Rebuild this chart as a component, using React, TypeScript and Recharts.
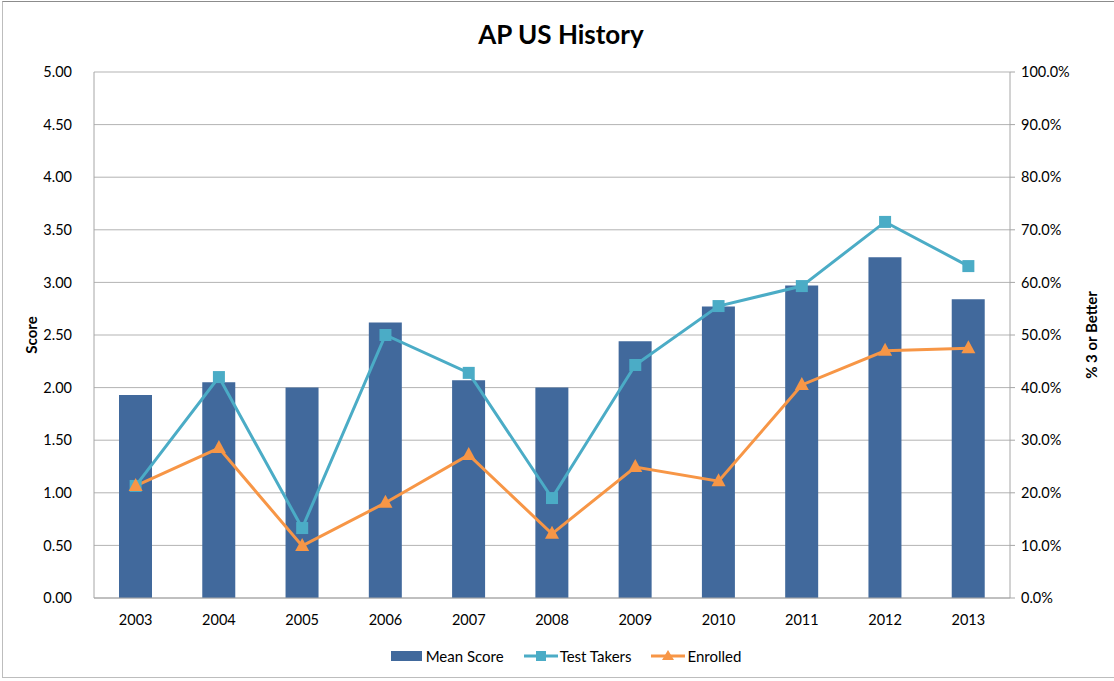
import React from 'react';
import { ComposedChart, Bar, Line, XAxis, YAxis, CartesianGrid, Legend } from 'recharts';

const years = ['2003', '2004', '2005', '2006', '2007', '2008', '2009', '2010', '2011', '2012', '2013'];
const meanScore = [1.93, 2.05, 2.0, 2.62, 2.07, 2.0, 2.44, 2.77, 2.97, 3.24, 2.84];
const testTakers = [21.3, 42.0, 13.3, 50.0, 42.8, 19.0, 44.3, 55.5, 59.3, 71.5, 63.1];
const enrolled = [21.3, 28.5, 9.9, 18.1, 27.2, 12.2, 24.9, 22.2, 40.5, 47.0, 47.5];
const scoreTicks = [0, 0.5, 1, 1.5, 2, 2.5, 3, 3.5, 4, 4.5, 5];
const pctTicks = [0, 10, 20, 30, 40, 50, 60, 70, 80, 90, 100];

const data = years.map((y, i) => ({
  year: y,
  mean: meanScore[i],
  takers: testTakers[i],
  enrolled: enrolled[i],
}));

const BAR = '#41699c';
const AQUA = '#4bacc6';
const ORANGE = '#f79646';
const FONT = 'Lato, "Open Sans", sans-serif';

const SquareDot = (props: any) => {
  const { cx, cy, index } = props;
  if (cx == null || cy == null) return null;
  return <rect key={'s' + index} x={cx - 6} y={cy - 6} width={12} height={12} fill={AQUA} />;
};

const TriDot = (props: any) => {
  const { cx, cy, index } = props;
  if (cx == null || cy == null) return null;
  return (
    <polygon
      key={'t' + index}
      points={`${cx},${cy - 8} ${cx + 7},${cy + 5} ${cx - 7},${cy + 5}`}
      fill={ORANGE}
    />
  );
};

const LegendContent = () => (
  <div
    style={{
      display: 'flex',
      justifyContent: 'center',
      alignItems: 'center',
      fontFamily: FONT,
      fontSize: 15,
      color: '#000',
      height: 28,
      paddingLeft: 8,
    }}
  >
    <span style={{ display: 'inline-flex', alignItems: 'center', marginRight: 20 }}>
      <svg width={31} height={12} style={{ marginRight: 4 }}>
        <rect x={0} y={1} width={31} height={10} fill={BAR} />
      </svg>
      Mean Score
    </span>
    <span style={{ display: 'inline-flex', alignItems: 'center', marginRight: 20 }}>
      <svg width={34} height={12} style={{ marginRight: 2 }}>
        <line x1={0} y1={6} x2={34} y2={6} stroke={AQUA} strokeWidth={3} />
        <rect x={12} y={1} width={10} height={10} fill={AQUA} />
      </svg>
      Test Takers
    </span>
    <span style={{ display: 'inline-flex', alignItems: 'center' }}>
      <svg width={34} height={12} style={{ marginRight: 2 }}>
        <line x1={0} y1={6} x2={34} y2={6} stroke={ORANGE} strokeWidth={3} />
        <polygon points="17,0 23,10 11,10" fill={ORANGE} />
      </svg>
      Enrolled
    </span>
  </div>
);

export default function App() {
  return (
    <div style={{ position: 'absolute', left: 0, top: 0, width: 1114, height: 681, background: '#fff', overflow: 'hidden' }}>
      <div
        style={{
          position: 'absolute',
          left: 2,
          top: 1,
          width: 1114,
          height: 677,
          border: '1px solid #bdbdbd',
          borderTopColor: '#8c8c8c',
          boxSizing: 'border-box',
        }}
      />
      <div
        style={{
          position: 'absolute',
          left: 0,
          width: 1122,
          top: 18,
          textAlign: 'center',
          fontFamily: FONT,
          fontWeight: 'bold',
          fontSize: 26,
          color: '#000',
        }}
      >
        AP US History
      </div>
      <div style={{ position: 'absolute', left: 0, top: 0 }}>
        <ComposedChart
          width={1114}
          height={681}
          data={data}
          margin={{ top: 72, right: 22, bottom: 11, left: 32 }}
          style={{ fontFamily: FONT }}
        >
          <CartesianGrid yAxisId="left" vertical={false} stroke="#b3b3b3" strokeWidth={1} />
          <XAxis
            dataKey="year"
            height={44}
            tickLine={false}
            axisLine={{ stroke: '#a6a6a6' }}
            tickSize={0}
            tickMargin={17}
            tick={{ fill: '#000', fontSize: 14.5 }}
          />
          <YAxis
            yAxisId="left"
            orientation="left"
            width={62}
            domain={[0, 5]}
            ticks={scoreTicks}
            interval={0}
            tickFormatter={(v: number) => v.toFixed(2)}
            tickLine={false}
            tickSize={0}
            tickMargin={22}
            axisLine={{ stroke: '#a6a6a6' }}
            tick={{ fill: '#000', fontSize: 14.5 }}
            label={{
              value: 'Score',
              angle: -90,
              position: 'insideLeft',
              offset: 0,
              style: { textAnchor: 'middle', fontWeight: 'bold', fontSize: 15, fill: '#000' },
            }}
          />
          <YAxis
            yAxisId="right"
            orientation="right"
            width={82}
            domain={[0, 100]}
            ticks={pctTicks}
            interval={0}
            tickFormatter={(v: number) => v.toFixed(1) + '%'}
            tickLine={{ stroke: '#a6a6a6' }}
            tickSize={5}
            tickMargin={6}
            axisLine={{ stroke: '#a6a6a6' }}
            tick={{ fill: '#000', fontSize: 14.5 }}
            label={{
              value: '% 3 or Better',
              angle: -90,
              position: 'insideRight',
              offset: 0,
              style: { textAnchor: 'middle', fontWeight: 'bold', fontSize: 15, fill: '#000' },
            }}
          />
          <Legend verticalAlign="bottom" align="center" height={28} content={<LegendContent />} />
          <Bar yAxisId="left" dataKey="mean" name="Mean Score" fill={BAR} barSize={33} isAnimationActive={false} />
          <Line
            yAxisId="right"
            type="linear"
            dataKey="takers"
            name="Test Takers"
            stroke={AQUA}
            strokeWidth={3}
            dot={SquareDot}
            activeDot={false}
            isAnimationActive={false}
          />
          <Line
            yAxisId="right"
            type="linear"
            dataKey="enrolled"
            name="Enrolled"
            stroke={ORANGE}
            strokeWidth={3}
            dot={TriDot}
            activeDot={false}
            isAnimationActive={false}
          />
        </ComposedChart>
      </div>
    </div>
  );
}
